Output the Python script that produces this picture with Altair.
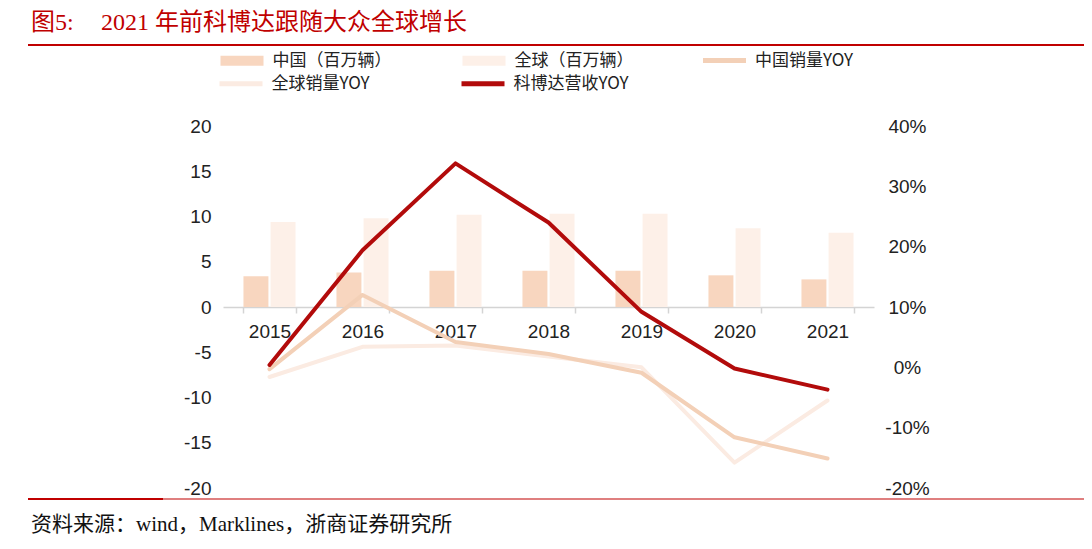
import altair as alt
import pandas as pd

# ---------------- data ----------------
years = ["2015", "2016", "2017", "2018", "2019", "2020", "2021"]
china_sales = [3.4, 3.8, 4.0, 4.0, 4.0, 3.5, 3.05]          # 百万辆
global_sales = [9.4, 9.8, 10.2, 10.3, 10.3, 8.7, 8.2]        # 百万辆
china_yoy = [-0.3, 12.0, 4.2, 2.2, -0.9, -11.6, -15.1]        # %
global_yoy = [-1.6, 3.4, 3.6, 1.8, 0.0, -15.8, -5.5]          # %
kbd_yoy = [0.4, 19.4, 33.8, 24.0, 9.2, -0.2, -3.7]            # %

bar_names = ["中国（百万辆）", "全球（百万辆）"]
bar_colors = ["#f8d6bf", "#fdf0e8"]
china_line_name = ["中国销量YOY"]
china_line_color = ["#f3d0b7"]
other_line_names = ["全球销量YOY", "科博达营收YOY"]
other_line_colors = ["#fbebe2", "#b20b0b"]

left_ticks = [-20, -15, -10, -5, 0, 5, 10, 15, 20]
right_ticks = [-20, -10, 0, 10, 20, 30, 40]

title_num = "图5:"
title_text = "2021 年前科博达跟随大众全球增长"
source_text = "资料来源：wind，Marklines，浙商证券研究所"

# ---------------- tables ----------------
bars = pd.DataFrame(
    [(y, bar_names[0], v) for y, v in zip(years, china_sales)]
    + [(y, bar_names[1], v) for y, v in zip(years, global_sales)],
    columns=["year", "series", "value"],
)
global_df = pd.DataFrame({"year": years, "series": other_line_names[0], "value": global_yoy})
china_df = pd.DataFrame({"year": years, "series": china_line_name[0], "value": china_yoy})
kbd_df = pd.DataFrame({"year": years, "series": other_line_names[1], "value": kbd_yoy})

W, H = 651, 362
ZERO_FROM_BOTTOM = 181

LATIN = "Liberation Sans"
CJK = "Noto Sans CJK SC"
SERIF = "Liberation Serif, Noto Sans CJK SC"
RECT = "M-2.15,-0.5H2.15V0.5H-2.15Z"
LINE = "M-2.15,0H2.15"


def make_legend(x, y, shape, col_pad):
    return alt.Legend(
        title=None,
        orient="none",
        legendX=x,
        legendY=y,
        direction="horizontal",
        columnPadding=col_pad,
        symbolSize=400,
        symbolType=shape,
        symbolStrokeWidth=5,
        symbolOpacity=1,
        labelOffset=18,
        labelFont=CJK,
        labelFontSize=17,
        labelColor="#222222",
        labelLimit=300,
    )


x_enc = alt.X(
    "year:N",
    sort=years,
    scale=alt.Scale(paddingInner=0.44, paddingOuter=0.22),
    axis=alt.Axis(
        title=None,
        orient="bottom",
        offset=-ZERO_FROM_BOTTOM,
        labelAngle=0,
        tickBand="extent",
        domainColor="#d4d4d4",
        domainWidth=1.5,
        tickColor="#d4d4d4",
        tickWidth=1.5,
        tickSize=6,
        labelFont=LATIN,
        labelFontSize=19,
        labelColor="#222222",
        labelPadding=9,
        grid=False,
    ),
)

bar_layer = alt.Chart(bars).mark_bar().encode(
    x=x_enc,
    xOffset=alt.XOffset("series:N", sort=bar_names, scale=alt.Scale(paddingInner=0.08)),
    y=alt.Y(
        "value:Q",
        scale=alt.Scale(domain=[-20, 20], nice=False),
        axis=alt.Axis(
            title=None,
            orient="left",
            values=left_ticks,
            labelExpr="'' + datum.value",
            domain=False,
            ticks=False,
            grid=False,
            labelFont=LATIN,
            labelFontSize=19,
            labelColor="#222222",
            labelPadding=12,
        ),
    ),
    fill=alt.Fill(
        "series:N",
        scale=alt.Scale(domain=bar_names, range=bar_colors),
        legend=make_legend(6.5, -78, RECT, 71),
    ),
)

y_right = alt.Y(
    "value:Q",
    scale=alt.Scale(domain=[-20, 40], nice=False),
    axis=alt.Axis(
        title=None,
        orient="right",
        values=right_ticks,
        labelExpr="datum.value + '%'",
        domain=False,
        ticks=False,
        grid=False,
        labelFont=LATIN,
        labelFontSize=19,
        labelColor="#222222",
        labelAlign="center",
        labelPadding=33,
    ),
)

other_color = alt.Color(
    "series:N",
    scale=alt.Scale(domain=other_line_names, range=other_line_colors),
    legend=make_legend(5.5, -55, LINE, 81),
)

line_kw = dict(strokeWidth=4, strokeCap="round", strokeJoin="round")
global_line = alt.Chart(global_df).mark_line(**line_kw).encode(x=x_enc, y=y_right, color=other_color)
china_line = alt.Chart(china_df).mark_line(**line_kw).encode(
    x=x_enc,
    y=y_right,
    stroke=alt.Stroke(
        "series:N",
        scale=alt.Scale(domain=china_line_name, range=china_line_color),
        legend=make_legend(489, -78, LINE, 20),
    ),
)
kbd_line = alt.Chart(kbd_df).mark_line(**line_kw).encode(x=x_enc, y=y_right, color=other_color)

lines_layer = alt.layer(global_line, china_line, kbd_line)

one = pd.DataFrame({"k": [0]})
RED = "#c00000"

top_rule = alt.Chart(one).mark_rule(color=RED, strokeWidth=2).encode(
    x=alt.value(-195), x2=alt.value(862), y=alt.value(-81)
)
bottom_rule = alt.Chart(one).mark_rule(color=RED, strokeWidth=1.2).encode(
    x=alt.value(-195), x2=alt.value(862), y=alt.value(373)
)
bottom_rule_thick = alt.Chart(one).mark_rule(color=RED, strokeWidth=2).encode(
    x=alt.value(-195), x2=alt.value(-60), y=alt.value(373)
)
title1 = alt.Chart(pd.DataFrame({"t": [title_num]})).mark_text(
    align="left", baseline="alphabetic", font=SERIF, fontSize=24, color=RED
).encode(x=alt.value(-192), y=alt.value(-96), text="t:N")
title2 = alt.Chart(pd.DataFrame({"t": [title_text]})).mark_text(
    align="left", baseline="alphabetic", font=SERIF, fontSize=24, color=RED
).encode(x=alt.value(-122), y=alt.value(-96), text="t:N")
source = alt.Chart(pd.DataFrame({"t": [source_text]})).mark_text(
    align="left", baseline="middle", font=SERIF, fontSize=21, color="#111111"
).encode(x=alt.value(-192), y=alt.value(399), text="t:N")

chart = (
    alt.layer(bar_layer, lines_layer, top_rule, bottom_rule, bottom_rule_thick, title1, title2, source)
    .resolve_scale(y="independent")
    .properties(
        width=W,
        height=H,
        autosize=alt.AutoSizeParams(type="none"),
        padding={"left": 215, "top": 118, "right": 210, "bottom": 54},
        background="white",
    )
    .configure_view(stroke=None)
)

chart.save("out.html", embed_options={"renderer": "svg", "actions": False})
